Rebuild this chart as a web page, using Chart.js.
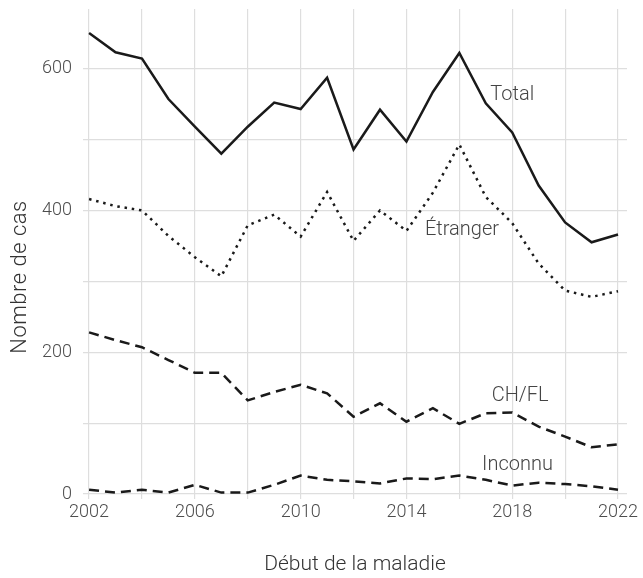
<!DOCTYPE html>
<html>
<head>
<meta charset="utf-8">
<script src="https://cdn.jsdelivr.net/npm/chart.js"></script>
<style>
  html, body { margin: 0; padding: 0; background: #fff; }
  #wrap { width: 643px; height: 578px; }
</style>
</head>
<body>
<div id="wrap"><canvas id="graficoCas"></canvas></div>
<script>
// données
var annees = [2002, 2003, 2004, 2005, 2006, 2007, 2008, 2009, 2010, 2011, 2012,
              2013, 2014, 2015, 2016, 2017, 2018, 2019, 2020, 2021, 2022];
var total    = [650, 623, 614, 557, 518, 480, 518, 552, 543, 587, 486,
                542, 497, 567, 622, 551, 510, 435, 383, 355, 366];
var etranger = [416, 406, 400, 364, 334, 307, 379, 394, 363, 426, 357,
                400, 371, 425, 493, 419, 382, 325, 287, 278, 286];
var chfl     = [228, 217, 207, 189, 171, 171, 132, 144, 154, 142, 109,
                128, 102, 121, 99, 114, 115, 95, 81, 66, 70];
var inconnu  = [6, 2, 6, 2, 13, 2, 2, 13, 26, 20, 18,
                15, 22, 21, 26, 20, 12, 16, 14, 11, 6];

var graduationsX = [2002, 2004, 2006, 2008, 2010, 2012, 2014, 2016, 2018, 2020, 2022];
var graduationsY = [0, 100, 200, 300, 400, 500, 600];

// étiquettes placées directement sur les courbes (année, valeur)
var etiquettes = [
    { texte: "Total",    x: 2018.0, y: 563 },
    { texte: "Étranger", x: 2016.1, y: 373 },
    { texte: "CH/FL",    x: 2018.3, y: 138 },
    { texte: "Inconnu",  x: 2018.2, y: 41 }
];

var police = "Roboto";
var encre = "#1a1a1a";
var gris = "#dedede";

function serie(valeurs) {
    var pts = [];
    for (var i = 0; i < annees.length; i++) {
        pts.push({ x: annees[i], y: valeurs[i] });
    }
    return pts;
}

function ligne(nom, valeurs, tirets) {
    return {
        label: nom,
        data: serie(valeurs),
        borderColor: encre,
        borderWidth: 2.5,
        borderDash: tirets,
        borderCapStyle: "butt",
        borderJoinStyle: "miter",
        pointRadius: 0,
        tension: 0,
        fill: false
    };
}

var data = {
    datasets: [
        ligne("Total", total, []),
        ligne("Étranger", etranger, [2.5, 4.8]),
        ligne("CH/FL", chfl, [10, 6]),
        ligne("Inconnu", inconnu, [10, 6])
    ]
};

// dessine les étiquettes et le titre vertical
var pluginTextes = {
    id: "textes",
    afterDatasetsDraw: function (chart) {
        var ctx = chart.ctx;
        var sx = chart.scales.x, sy = chart.scales.y;
        ctx.save();
        ctx.fillStyle = "#444";
        ctx.font = "300 20px " + police;
        ctx.textAlign = "center";
        ctx.textBaseline = "middle";
        etiquettes.forEach(function (e) {
            ctx.fillText(e.texte, sx.getPixelForValue(e.x), sy.getPixelForValue(e.y));
        });
        ctx.translate(20, 277);
        ctx.rotate(-Math.PI / 2);
        ctx.fillStyle = "#333";
        ctx.font = "300 22px " + police;
        ctx.letterSpacing = "0.5px";
        ctx.fillText("Nombre de cas", 0, 0);
        ctx.restore();
    }
};

function sansMarge(s) {
    s.paddingLeft = 0;
    s.paddingRight = 0;
    s.paddingTop = 0;
    s.paddingBottom = 0;
}

var options = {
    responsive: true,
    maintainAspectRatio: false,
    animation: false,
    layout: { padding: { top: 9, right: 16, left: 0, bottom: 0 } },
    plugins: {
        legend: { display: false },
        tooltip: { enabled: false }
    },
    scales: {
        x: {
            type: "linear",
            min: 2001.77,
            max: 2022.34,
            afterBuildTicks: function (s) {
                s.ticks = graduationsX.map(function (v) { return { value: v }; });
            },
            afterFit: function (s) { s.height = 79; sansMarge(s); },
            border: { display: false },
            grid: { color: gris, lineWidth: 1.2, drawTicks: false },
            ticks: {
                padding: 3,
                color: "#4d4d4d",
                font: { family: police, size: 18, weight: 300 },
                maxRotation: 0,
                autoSkip: false,
                callback: function (v) { return (v - 2002) % 4 === 0 ? String(v) : ""; }
            },
            title: {
                display: true,
                text: "Début de la maladie",
                color: "#333",
                padding: { top: 0, bottom: 1 },
                font: { family: police, size: 21, weight: 300 }
            }
        },
        y: {
            min: -7,
            max: 684,
            afterBuildTicks: function (s) {
                s.ticks = graduationsY.map(function (v) { return { value: v }; });
            },
            afterFit: function (s) { s.width = 83; sansMarge(s); },
            border: { display: false },
            grid: { color: gris, lineWidth: 1.2, drawTicks: false },
            ticks: {
                padding: 11,
                color: "#4d4d4d",
                font: { family: police, size: 18, weight: 300 },
                autoSkip: false,
                callback: function (v) { return v % 200 === 0 ? String(v) : ""; }
            }
        }
    }
};

var ctx = document.getElementById("graficoCas").getContext("2d");
var monGraphique = new Chart(ctx, {
    type: "line",
    data: data,
    options: options,
    plugins: [pluginTextes]
});
</script>
</body>
</html>
